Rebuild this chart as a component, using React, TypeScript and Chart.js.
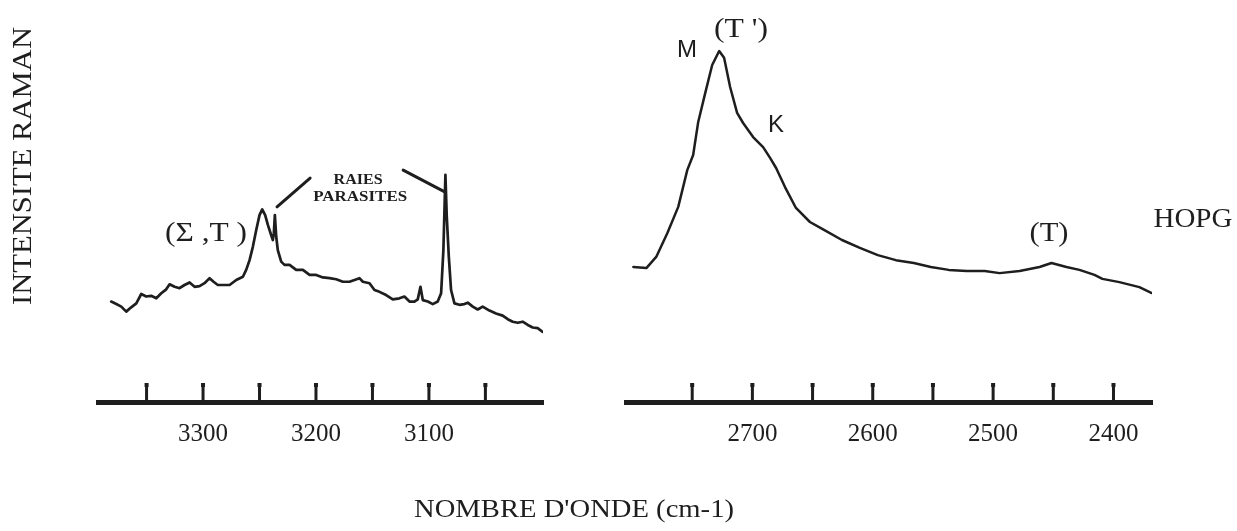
import React, { useEffect, useRef } from "react";
import { Chart, registerables } from "chart.js";

Chart.register(...registerables);

const W = 1237;
const H = 531;
const INK = "#1e1e1e";

// ---------- Left panel (3400 - 3000 cm-1) ----------
const leftWavenumber = [
  3381.3, 3376.8, 3372.4, 3368.0, 3363.6, 3359.1, 3354.7, 3350.3, 3345.9, 3341.4,
  3337.0, 3332.6, 3329.6, 3325.2, 3320.8, 3316.4, 3311.9, 3307.5, 3303.1, 3298.7,
  3294.2, 3290.7, 3286.9, 3282.4, 3276.5, 3270.6, 3264.7, 3261.8, 3258.8, 3255.9,
  3252.9, 3250.0, 3247.6, 3245.0, 3242.6, 3239.7, 3238.2, 3237.3, 3236.4, 3235.2,
  3233.8, 3230.8, 3227.9, 3223.4, 3217.5, 3211.6, 3205.7, 3199.8, 3193.9, 3188.0,
  3182.1, 3176.2, 3170.3, 3165.9, 3161.5, 3158.5, 3152.6, 3148.2, 3143.8, 3137.9,
  3132.0, 3126.1, 3121.7, 3117.2, 3112.8, 3109.9, 3107.5, 3105.4, 3101.0, 3096.6,
  3092.2, 3089.2, 3087.2, 3086.0, 3085.4, 3084.2, 3082.4, 3080.4, 3077.4, 3073.0,
  3068.6, 3065.6, 3061.2, 3056.8, 3052.4, 3046.4, 3040.6, 3034.7, 3030.2, 3025.8,
  3021.4, 3017.0, 3012.5, 3008.1, 3003.7, 2999.3,
];
const leftIntensity = [
  27.9, 27.2, 26.5, 25.1, 26.3, 27.4, 30.0, 29.3, 29.5, 28.8,
  30.2, 31.3, 32.7, 32.0, 31.6, 32.5, 33.2, 32.0, 32.2, 33.0,
  34.4, 33.4, 32.5, 32.5, 32.5, 33.9, 34.8, 36.7, 39.4, 43.1,
  47.8, 51.9, 53.5, 51.9, 49.2, 46.4, 45.0, 46.9, 51.9, 45.9,
  42.2, 39.0, 38.1, 38.1, 36.7, 36.7, 35.3, 35.3, 34.6, 34.4,
  34.1, 33.4, 33.4, 33.9, 34.4, 33.4, 33.0, 31.1, 30.6, 29.7,
  28.5, 28.8, 29.3, 27.9, 27.9, 28.5, 32.0, 28.3, 27.9, 27.2,
  27.9, 30.2, 42.2, 56.1, 63.1, 51.5, 40.4, 31.1, 27.4, 27.0,
  27.2, 27.6, 26.5, 25.7, 26.5, 25.4, 24.6, 24.0, 23.0, 22.3,
  22.0, 22.3, 21.4, 20.7, 20.5, 19.5,
];
const leftTicks = [3350, 3300, 3250, 3200, 3150, 3100, 3050];
const leftTickLabels = [3300, 3200, 3100];
const leftMin = 2999;
const leftMax = 3393;

// ---------- Right panel (2800 - 2370 cm-1) ----------
const rightWavenumber = [
  2798.9, 2788.1, 2779.9, 2770.7, 2761.6, 2754.1, 2749.2, 2745.0, 2739.2, 2733.4,
  2727.6, 2723.5, 2718.5, 2712.7, 2707.7, 2699.4, 2691.1, 2685.3, 2680.3, 2672.9,
  2663.8, 2652.2, 2640.5, 2625.6, 2610.7, 2595.8, 2580.8, 2565.9, 2551.8, 2536.9,
  2522.0, 2507.0, 2494.6, 2478.0, 2461.4, 2451.5, 2439.1, 2428.3, 2415.8, 2409.2,
  2395.1, 2378.5, 2368.6,
];
const rightIntensity = [
  37.5, 37.2, 40.3, 46.9, 54.2, 64.4, 68.6, 77.8, 85.8, 93.6,
  97.5, 95.6, 87.5, 80.3, 77.5, 73.6, 70.8, 67.8, 65.0, 59.7,
  53.9, 50.0, 47.8, 45.0, 42.8, 40.8, 39.4, 38.6, 37.5, 36.7,
  36.4, 36.4, 35.8, 36.4, 37.5, 38.6, 37.5, 36.7, 35.3, 34.2,
  33.3, 31.9, 30.3,
];
const rightTicks = [2750, 2700, 2650, 2600, 2550, 2500, 2450, 2400];
const rightTickLabels = [2700, 2600, 2500, 2400];
const rightMin = 2368;
const rightMax = 2805;

// ---------- Texts ----------
const yTitle = "INTENSITE RAMAN";
const xTitle = "NOMBRE D'ONDE (cm-1)";

const SERIF = "'Liberation Serif', 'Times New Roman', serif";
const SANS = "'Liberation Sans', Arial, sans-serif";

// annotations anchored on data coordinates (wavenumber, intensity)
const leftNotes = [
  { text: "(Σ ,T )", x: 3297.3, y: 46.9, font: `28px ${SERIF}`, width: 82 },
  { text: "RAIES", x: 3162.7, y: 61.7, font: `bold 15px ${SERIF}`, width: 49 },
  { text: "PARASITES", x: 3160.9, y: 56.9, font: `bold 15px ${SERIF}`, width: 94 },
];
const leftLeaders = [
  { x1: 3234.5, y1: 54.2, x2: 3205.2, y2: 62.2 },
  { x1: 3122.8, y1: 64.4, x2: 3085.6, y2: 58.3 },
];
const rightNotes = [
  { text: "M", x: 2754.3, y: 97.5, font: `23px ${SANS}`, width: 20 },
  { text: "(T ')", x: 2709.5, y: 103.3, font: `28px ${SERIF}`, width: 54 },
  { text: "K", x: 2680.4, y: 76.9, font: `23px ${SANS}`, width: 16 },
  { text: "(T)", x: 2453.6, y: 46.7, font: `28px ${SERIF}`, width: 39 },
  { text: "HOPG", x: 2334.0, y: 50.6, font: `28px ${SERIF}`, width: 79 },
];

function drawFitted(
  ctx: CanvasRenderingContext2D,
  text: string,
  x: number,
  y: number,
  font: string,
  width?: number,
  rotate = 0
) {
  ctx.save();
  ctx.font = font;
  ctx.textAlign = "center";
  ctx.textBaseline = "middle";
  ctx.fillStyle = INK;
  ctx.translate(x, y);
  if (rotate) ctx.rotate(rotate);
  if (width) {
    const m = ctx.measureText(text).width;
    if (m > 0) ctx.scale(width / m, 1);
  }
  ctx.fillText(text, 0, 0);
  ctx.restore();
}

function makeConfig(
  wn: number[],
  inten: number[],
  min: number,
  max: number,
  ticks: number[],
  labels: number[],
  padLeft: number,
  padRight: number,
  notes: { text: string; x: number; y: number; font: string; width: number }[],
  leaders: { x1: number; y1: number; x2: number; y2: number }[],
  drawTitles: boolean,
  lineWidth: number
): any {
  const tickMarks = {
    id: "tickMarks",
    afterDatasetsDraw(chart: any) {
      const ctx = chart.ctx as CanvasRenderingContext2D;
      const xs = chart.scales.x;
      const bottom = chart.chartArea.bottom;
      ctx.save();
      ctx.fillStyle = INK;
      ticks.forEach((v) => {
        const px = xs.getPixelForValue(v);
        ctx.fillRect(px - 1.5, bottom - 19, 3, 19);
        ctx.fillRect(px - 2, bottom - 19, 4, 4);
      });
      ctx.restore();
    },
  };
  const annotations = {
    id: "annotations",
    afterDraw(chart: any) {
      const ctx = chart.ctx as CanvasRenderingContext2D;
      const xs = chart.scales.x;
      const ys = chart.scales.y;
      ctx.save();
      ctx.strokeStyle = INK;
      ctx.lineWidth = 3;
      ctx.lineCap = "round";
      leaders.forEach((l) => {
        ctx.beginPath();
        ctx.moveTo(xs.getPixelForValue(l.x1), ys.getPixelForValue(l.y1));
        ctx.lineTo(xs.getPixelForValue(l.x2), ys.getPixelForValue(l.y2));
        ctx.stroke();
      });
      ctx.restore();
      notes.forEach((n) => {
        drawFitted(ctx, n.text, xs.getPixelForValue(n.x), ys.getPixelForValue(n.y), n.font, n.width);
      });
      if (drawTitles) {
        drawFitted(ctx, yTitle, 23.5, 166, `28px ${SERIF}`, 278, -Math.PI / 2);
        drawFitted(ctx, xTitle, 574, 510, `26px ${SERIF}`, 320);
      }
    },
  };
  return {
    type: "line",
    data: {
      datasets: [
        {
          data: wn.map((w, i) => ({ x: w, y: inten[i] })),
          borderColor: INK,
          borderWidth: lineWidth,
          pointRadius: 0,
          tension: 0,
          fill: false,
          borderJoinStyle: "round",
          borderCapStyle: "round",
        },
      ],
    },
    options: {
      responsive: false,
      animation: false,
      events: [],
      layout: { padding: { left: padLeft, right: padRight, top: 42, bottom: 65 } },
      plugins: { legend: { display: false }, tooltip: { enabled: false }, title: { display: false } },
      scales: {
        x: {
          type: "linear",
          reverse: true,
          min,
          max,
          afterBuildTicks: (scale: any) => {
            scale.ticks = ticks.map((v) => ({ value: v }));
          },
          grid: { display: true, drawOnChartArea: false, drawTicks: false },
          border: { display: true, width: 5, color: INK },
          ticks: {
            autoSkip: false,
            maxRotation: 0,
            padding: 17,
            color: INK,
            font: { family: SERIF, size: 25 },
            callback: (v: any) => (labels.includes(Number(v)) ? String(v) : ""),
          },
        },
        y: { display: false, min: 0, max: 100 },
      },
    },
    plugins: [tickMarks, annotations],
  };
}

export default function App() {
  const leftRef = useRef<HTMLCanvasElement>(null);
  const rightRef = useRef<HTMLCanvasElement>(null);

  useEffect(() => {
    const c1 = new Chart(
      leftRef.current!,
      makeConfig(
        leftWavenumber, leftIntensity, leftMin, leftMax, leftTicks, leftTickLabels,
        98, W - 543, leftNotes, leftLeaders, true, 2.7
      )
    );
    const c2 = new Chart(
      rightRef.current!,
      makeConfig(
        rightWavenumber, rightIntensity, rightMin, rightMax, rightTicks, rightTickLabels,
        626, W - 1152, rightNotes, [], false, 2.5
      )
    );
    return () => {
      c1.destroy();
      c2.destroy();
    };
  }, []);

  const canvasStyle: React.CSSProperties = {
    position: "absolute",
    left: 0,
    top: 0,
    width: W,
    height: H,
  };

  return (
    <div style={{ position: "fixed", left: 0, top: 0, width: W, height: H, background: "#fff" }}>
      <canvas ref={leftRef} width={W} height={H} style={canvasStyle} />
      <canvas ref={rightRef} width={W} height={H} style={canvasStyle} />
    </div>
  );
}
